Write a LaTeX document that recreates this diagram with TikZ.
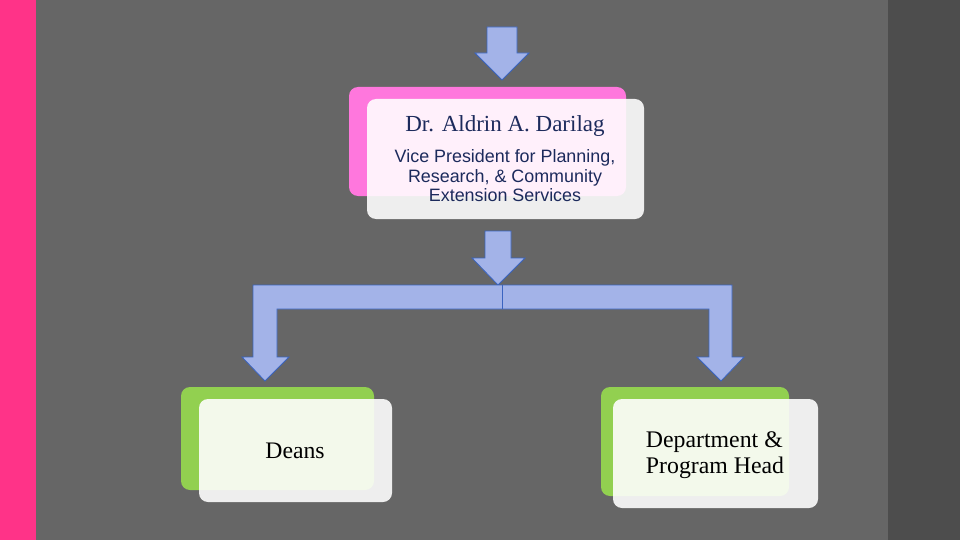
\documentclass[tikz,border=0pt]{standalone}
\usepackage{fontspec}
\setmainfont{Liberation Serif}
\newfontfamily\arialf{Liberation Sans}
\definecolor{bgGray}{HTML}{666666}
\definecolor{bgDark}{HTML}{4D4D4D}
\definecolor{stripPink}{HTML}{FF3388}
\definecolor{boxPink}{HTML}{FF77DD}
\definecolor{boxGreen}{HTML}{92D050}
\definecolor{arrFill}{HTML}{A3B3E8}
\definecolor{arrLine}{HTML}{3A64C0}
\definecolor{navy}{HTML}{1C2A5C}
\tikzset{
  backbox/.style={rounded corners=9pt, minimum width=#1, inner sep=0pt, outer sep=0pt},
  frontbox/.style={fill=white, fill opacity=0.89, rounded corners=9pt, inner sep=0pt, outer sep=0pt},
  blockarrow/.style={fill=arrFill, draw=arrLine, line width=0.8pt, line join=miter},
}
\begin{document}
\begin{tikzpicture}[x=1pt,y=-1pt]
\useasboundingbox (0,0) rectangle (960,540);
% background
\fill[bgGray] (0,0) rectangle (960,540);
\fill[stripPink] (0,0) rectangle (36,540);
\fill[bgDark] (888,0) rectangle (960,540);

% top box
\node[backbox=277pt, fill=boxPink, minimum height=109pt] (vpback) at (487.5,141.5) {};
\node[frontbox, minimum width=277pt, minimum height=120pt] (vp) at (505.5,159) {};
\node[text=navy, font=\fontsize{23}{26}\selectfont] (vpname) at (505,126) {Dr. Aldrin A. Darilag};
\node[text=navy, font=\arialf\fontsize{17.9}{19.5}\selectfont, align=center] (vptitle) at (505,176)
  {Vice President for Planning,\\Research, \& Community\\Extension Services};

% left box
\node[backbox=193pt, fill=boxGreen, minimum height=103pt] (deansback) at (277.5,438.5) {};
\node[frontbox, minimum width=193pt, minimum height=103pt] (deans) at (295.5,450.5) {};
\node[font=\fontsize{23.7}{26}\selectfont] (deanstext) at (295,451) {Deans};

% right box
\node[backbox=188pt, fill=boxGreen, minimum height=109pt] (deptback) at (695,441.5) {};
\node[frontbox, minimum width=205pt, minimum height=109pt] (dept) at (715.5,453.5) {};
\node[font=\fontsize{23.8}{26}\selectfont, align=left] (depttext) at (715,455.5) {Department \&\\Program Head};

% top arrow into VP box
\draw[blockarrow] (487,27) -- (517,27) -- (517,53) -- (529,53) -- (502,80) -- (475,53) -- (487,53) -- cycle;

% middle arrow
\draw[blockarrow] (485,231) -- (511,231) -- (511,258) -- (525,258) -- (498,285) -- (472,258) -- (485,258) -- cycle;

% bracket arrow
\draw[blockarrow] (253,285) -- (732,285) -- (732,357) -- (744,357) -- (721,381) -- (697,357) -- (709,357)
  -- (709,309) -- (277,309) -- (277,357) -- (289,357) -- (265,381) -- (242,357) -- (253,357) -- cycle;
\draw[arrLine, line width=0.8pt] (502,285) -- (502,309);
\end{tikzpicture}
\end{document}
